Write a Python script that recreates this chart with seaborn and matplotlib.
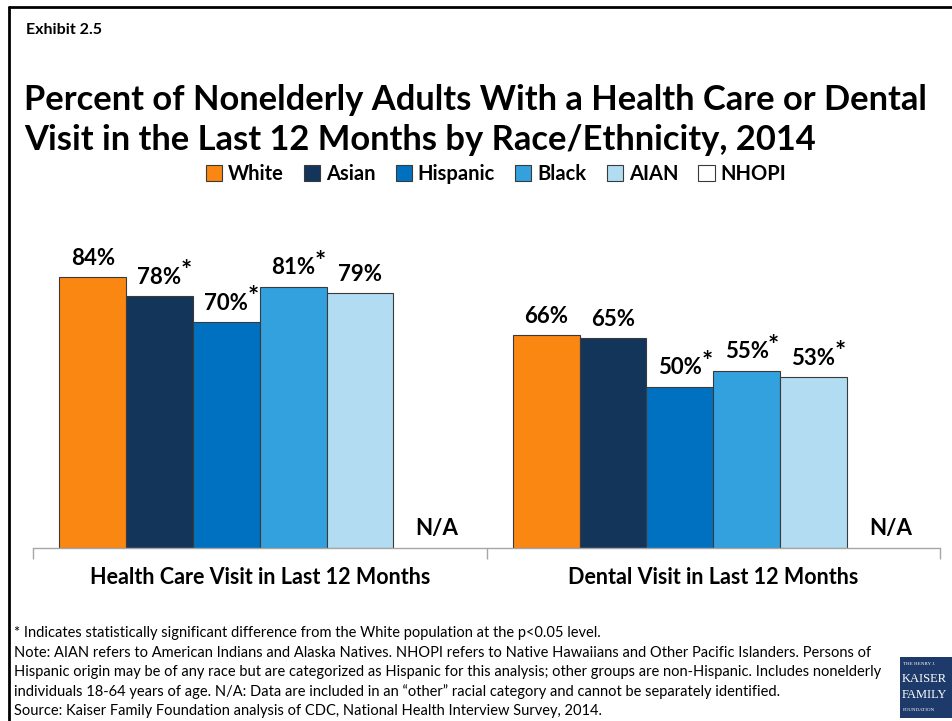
import numpy as np
import pandas as pd
import matplotlib
matplotlib.use("Agg")
import matplotlib.pyplot as plt
from matplotlib.patches import Patch, Rectangle
from matplotlib.lines import Line2D
import seaborn as sns

# ---- data -------------------------------------------------------------
measures = ["Health Care Visit in Last 12 Months", "Dental Visit in Last 12 Months"]
groups = ["White", "Asian", "Hispanic", "Black", "AIAN", "NHOPI"]
health_care = [84, 78, 70, 81, 79, np.nan]
dental = [66, 65, 50, 55, 53, np.nan]
sig_health_care = [False, True, True, True, False, False]
sig_dental = [False, False, True, True, True, False]
colors = ["#FA8712", "#14355A", "#0070C0", "#32A1DE", "#B1DCF2", "#FFFFFF"]

title_lines = ["Percent of Nonelderly Adults With a Health Care or Dental",
               "Visit in the Last 12 Months by Race/Ethnicity, 2014"]
notes = [
    "* Indicates statistically significant difference from the White population at the p<0.05 level.",
    "Note: AIAN refers to American Indians and Alaska Natives. NHOPI refers to Native Hawaiians and Other Pacific Islanders. Persons of",
    "Hispanic origin may be of any race but are categorized as Hispanic for this analysis; other groups are non-Hispanic. Includes nonelderly",
    "individuals 18-64 years of age. N/A: Data are included in an \u201cother\u201d racial category and cannot be separately identified.",
    "Source: Kaiser Family Foundation analysis of CDC, National Health Interview Survey, 2014.",
]

df = pd.DataFrame({
    "measure": np.repeat(measures, len(groups)),
    "group": groups * len(measures),
    "pct": health_care + dental,
    "sig": sig_health_care + sig_dental,
})

# ---- figure -----------------------------------------------------------
sns.set_theme(style="white")
FONT = ["Lato", "DejaVu Sans"]
plt.rcParams["font.family"] = FONT
plt.rcParams["text.color"] = "black"
plt.rcParams["xtick.color"] = "black"

W, H = 952, 721
fig = plt.figure(figsize=(W / 100, H / 100), dpi=100)
fig.patch.set_facecolor("white")

def px(x0, y0, x1, y1):
    return [x0 / W, 1 - y1 / H, (x1 - x0) / W, (y1 - y0) / H]

ax = fig.add_axes(px(33, 200, 940, 548))

bar_width = 0.884
sns.barplot(data=df, x="measure", y="pct", hue="group", order=measures,
            hue_order=groups, palette=colors, saturation=1, width=bar_width,
            errorbar=None, edgecolor="#3A3A3A", linewidth=0.8, legend=False, ax=ax)

ax.set_ylim(0, 107.9)
ax.set_xlim(-0.5, 1.5)
ax.set_ylabel("")
ax.set_xlabel("")
ax.set_yticks([])
for s in ["top", "left", "right"]:
    ax.spines[s].set_visible(False)
ax.spines["bottom"].set_color("#A6A6A6")
ax.spines["bottom"].set_linewidth(1.0)
ax.set_xticks(range(len(measures)))
ax.set_xticklabels(measures, fontsize=15.5, fontweight="bold", color="black")
ax.tick_params(axis="x", which="major", length=0, pad=14)
ax.set_xticks([-0.5, 0.5, 1.5], minor=True)
ax.tick_params(axis="x", which="minor", length=8, width=1.0, color="#A6A6A6",
               bottom=True, direction="out")

# value labels, significance marks and N/A
n = len(groups)
step = bar_width / n
for _, row in df.iterrows():
    j = measures.index(row["measure"])
    i = groups.index(row["group"])
    x = j - bar_width / 2 + step * (i + 0.5)
    v = row["pct"]
    if np.isnan(v):
        ax.annotate("N/A", (x, 0), xytext=(10, 20), textcoords="offset pixels",
                    ha="center", va="center", fontsize=16, fontweight="bold")
        continue
    ax.annotate(f"{v:.0f}%", (x, v), xytext=(0, 19), textcoords="offset pixels",
                ha="center", va="center", fontsize=16, fontweight="bold")
    if row["sig"]:
        ax.annotate("*", (x, v), xytext=(27, 25), textcoords="offset pixels",
                    ha="center", va="center", fontsize=19, fontweight="bold")

# legend
handles = [Patch(facecolor=c, edgecolor="#3A3A3A", linewidth=0.8) for c in colors]
fig.legend(handles, groups, loc="center", bbox_to_anchor=(496 / W, 1 - 174 / H),
           ncol=n, frameon=False, prop={"family": FONT, "weight": "bold", "size": 14.5},
           handlelength=0.8, handleheight=0.8, handletextpad=0.3,
           columnspacing=1.0, borderaxespad=0)

# headings
fig.text(26 / W, 1 - 30 / H, "Exhibit 2.5", fontsize=11.5, fontweight="bold",
         ha="left", va="center")
for k, line in enumerate(title_lines):
    fig.text(24 / W, 1 - (100 + 40 * k) / H, line, fontsize=24.8,
             fontweight="bold", ha="left", va="center")

# notes
for k, line in enumerate(notes):
    fig.text(14 / W, 1 - (633 + 19.6 * k) / H, line, fontsize=10.5,
             ha="left", va="center")

# frame on the top and left edges
fig.add_artist(Line2D([9 / W, 9 / W], [0, 1 - 7 / H], transform=fig.transFigure,
                      color="black", linewidth=2))
fig.add_artist(Line2D([9 / W, 1], [1 - 7 / H, 1 - 7 / H], transform=fig.transFigure,
                      color="black", linewidth=2))

# foundation logo
fig.add_artist(Rectangle((900 / W, 1 - 718 / H), 60 / W, 61 / H,
                         transform=fig.transFigure, facecolor="#1D3A6A",
                         edgecolor="none"))
serif = ["Liberation Serif", "DejaVu Serif"]
fig.text(903 / W, 1 - 664 / H, "THE HENRY J.", fontsize=3.6, color="white",
         family=serif, ha="left", va="center")
fig.text(902 / W, 1 - 679 / H, "KAISER", fontsize=9, color="white",
         family=serif, ha="left", va="center")
fig.text(902 / W, 1 - 695 / H, "FAMILY", fontsize=9, color="white",
         family=serif, ha="left", va="center")
fig.text(903 / W, 1 - 710 / H, "FOUNDATION", fontsize=3.6, color="white",
         family=serif, ha="left", va="center")

fig.savefig("out.png", dpi=100, facecolor="white")
